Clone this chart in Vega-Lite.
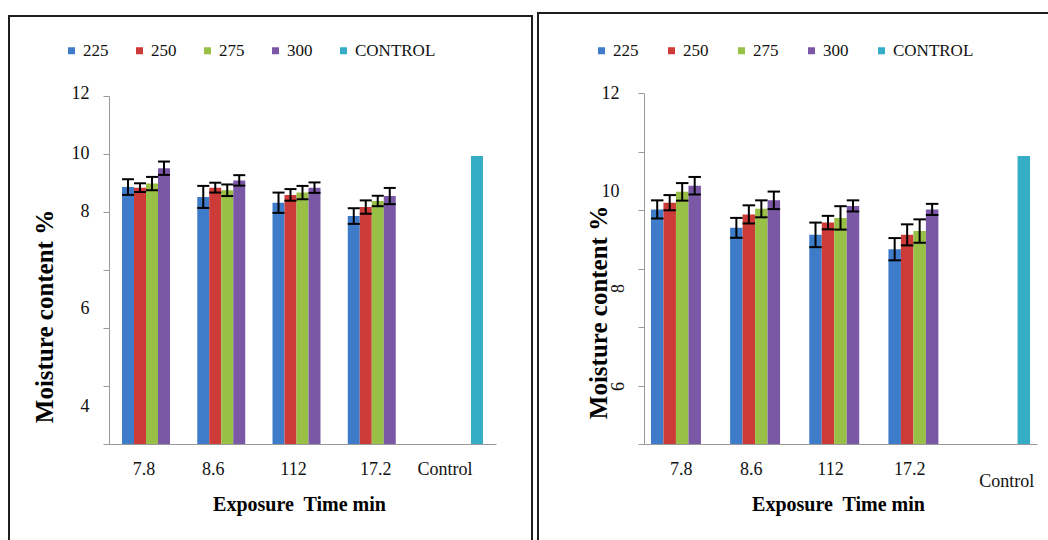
{
  "$schema": "https://vega.github.io/schema/vega-lite/v6.json",
  "padding": {"left": 8, "top": 12, "right": 0, "bottom": 0},
  "background": "white",
  "datasets": {
    "left": [
      {"time": "7.8", "series": "225", "value": 8.86, "lo": 8.59, "hi": 9.13},
      {"time": "7.8", "series": "250", "value": 8.84, "lo": 8.69, "hi": 8.99},
      {"time": "7.8", "series": "275", "value": 8.98, "lo": 8.75, "hi": 9.21},
      {"time": "7.8", "series": "300", "value": 9.51, "lo": 9.28, "hi": 9.74},
      {"time": "8.6", "series": "225", "value": 8.52, "lo": 8.14, "hi": 8.9},
      {"time": "8.6", "series": "250", "value": 8.84, "lo": 8.67, "hi": 9.01},
      {"time": "8.6", "series": "275", "value": 8.75, "lo": 8.55, "hi": 8.95},
      {"time": "8.6", "series": "300", "value": 9.09, "lo": 8.91, "hi": 9.27},
      {"time": "112", "series": "225", "value": 8.32, "lo": 7.97, "hi": 8.67},
      {"time": "112", "series": "250", "value": 8.59, "lo": 8.39, "hi": 8.79},
      {"time": "112", "series": "275", "value": 8.67, "lo": 8.44, "hi": 8.9},
      {"time": "112", "series": "300", "value": 8.84, "lo": 8.66, "hi": 9.02},
      {"time": "17.2", "series": "225", "value": 7.86, "lo": 7.59, "hi": 8.13},
      {"time": "17.2", "series": "250", "value": 8.17, "lo": 7.94, "hi": 8.4},
      {"time": "17.2", "series": "275", "value": 8.38, "lo": 8.2, "hi": 8.56},
      {"time": "17.2", "series": "300", "value": 8.55, "lo": 8.27, "hi": 8.83},
      {"time": "Control", "series": "CONTROL", "value": 9.93, "lo": null, "hi": null}
    ],
    "right": [
      {"time": "7.8", "series": "225", "value": 8.02, "lo": 7.71, "hi": 8.33},
      {"time": "7.8", "series": "250", "value": 8.25, "lo": 7.99, "hi": 8.51},
      {"time": "7.8", "series": "275", "value": 8.62, "lo": 8.32, "hi": 8.92},
      {"time": "7.8", "series": "300", "value": 8.83, "lo": 8.53, "hi": 9.13},
      {"time": "8.6", "series": "225", "value": 7.39, "lo": 7.05, "hi": 7.73},
      {"time": "8.6", "series": "250", "value": 7.85, "lo": 7.54, "hi": 8.16},
      {"time": "8.6", "series": "275", "value": 8.04, "lo": 7.75, "hi": 8.33},
      {"time": "8.6", "series": "300", "value": 8.33, "lo": 8.03, "hi": 8.63},
      {"time": "112", "series": "225", "value": 7.15, "lo": 6.73, "hi": 7.57},
      {"time": "112", "series": "250", "value": 7.57, "lo": 7.34, "hi": 7.8},
      {"time": "112", "series": "275", "value": 7.73, "lo": 7.33, "hi": 8.13},
      {"time": "112", "series": "300", "value": 8.14, "lo": 7.95, "hi": 8.33},
      {"time": "17.2", "series": "225", "value": 6.66, "lo": 6.28, "hi": 7.04},
      {"time": "17.2", "series": "250", "value": 7.15, "lo": 6.79, "hi": 7.51},
      {"time": "17.2", "series": "275", "value": 7.28, "lo": 6.88, "hi": 7.68},
      {"time": "17.2", "series": "300", "value": 8.02, "lo": 7.83, "hi": 8.21},
      {"time": "Control", "series": "CONTROL", "value": 9.85, "lo": null, "hi": null}
    ]
  },
  "spacing": 6,
  "bounds": "flush",
  "center": true,
  "hconcat": [
    {
      "width": 523,
      "height": 526,
      "data": {"name": "left"},
      "encoding": {
        "x": {
          "field": "time", "type": "nominal",
          "sort": ["7.8", "8.6", "112", "17.2", "Control"],
          "scale": {"range": [100, 487], "paddingInner": 0.203, "paddingOuter": 0.173},
          "axis": {
            "offset": -98, "ticks": false, "labelPadding": 16, "labelFontSize": 18, "labelAngle": 0,
            "title": "Exposure\u00a0 Time min", "titleFontSize": 20, "titleFontWeight": "bold",
            "titleX": 290, "titleY": 60, "titleBaseline": "middle", "titleAlign": "center",
            "labelOffset": {"condition": [
              {"test": "datum.value == '8.6'", "value": -14},
              {"test": "datum.value == '112'", "value": -9},
              {"test": "datum.value == '17.2'", "value": -2}
            ], "value": -8}
          }
        },
        "xOffset": {
          "field": "series", "type": "nominal",
          "sort": ["225", "250", "275", "300", "CONTROL"],
          "scale": {"domain": ["225", "250", "275", "300", "CONTROL"], "paddingInner": 0, "paddingOuter": 0}
        }
      },
      "layer": [
        {
          "mark": {"type": "bar"},
          "encoding": {
            "y": {
              "field": "value", "type": "quantitative",
              "scale": {"domain": [0, 12], "range": [428, 80], "nice": false, "zero": true},
              "axis": {
                "offset": -100, "values": [0, 2, 4, 6, 8, 10, 12], "tickSize": 6, "labelPadding": 14,
                "labelFontSize": 18,
                "labelExpr": "datum.value == 12 ? '12' : datum.value == 10 ? '10' : datum.value == 8 ? '8' : datum.value == 6 ? '6' : datum.value == 4 ? '4' : ''",
                "title": "Moisture content %", "titleFontSize": 25, "titleFontWeight": "bold",
                "titleX": -65, "titleY": 300, "titleAngle": -90, "titleBaseline": "middle", "titleAlign": "center",
                "labelOffset": {"condition": [
                  {"test": "datum.value == 12", "value": -3},
                  {"test": "datum.value == 6", "value": 38},
                  {"test": "datum.value == 4", "value": 78}
                ], "value": -1}
              }
            },
            "color": {
              "field": "series", "type": "nominal",
              "scale": {"domain": ["225", "250", "275", "300", "CONTROL"], "range": ["#3E7CC9", "#CC3B37", "#98C046", "#7B58A6", "#35ADC6"]},
              "legend": {
                "orient": "none", "legendX": 54, "legendY": 26, "direction": "horizontal", "title": null,
                "symbolType": "square", "symbolSize": 49, "symbolStrokeWidth": 0, "labelFontSize": 17,
                "labelOffset": 3, "columnPadding": 22, "padding": 0, "labelFont": "Liberation Serif"
              }
            }
          }
        },
        {
          "mark": {"type": "rule", "color": "black", "strokeWidth": 2},
          "encoding": {
            "y": {"field": "lo", "type": "quantitative", "scale": {"domain": [0, 12], "range": [428, 80], "nice": false}},
            "y2": {"field": "hi"}
          }
        },
        {
          "mark": {"type": "tick", "color": "black", "thickness": 2, "size": 12, "opacity": 1},
          "encoding": {"y": {"field": "lo", "type": "quantitative", "scale": {"domain": [0, 12], "range": [428, 80], "nice": false}}}
        },
        {
          "mark": {"type": "tick", "color": "black", "thickness": 2, "size": 12, "opacity": 1},
          "encoding": {"y": {"field": "hi", "type": "quantitative", "scale": {"domain": [0, 12], "range": [428, 80], "nice": false}}}
        }
      ]
    },
    {
      "width": 515,
      "height": 532,
      "data": {"name": "right"},
      "encoding": {
        "x": {
          "field": "time", "type": "nominal",
          "sort": ["7.8", "8.6", "112", "17.2", "Control"],
          "scale": {"range": [106, 499], "paddingInner": 0.211, "paddingOuter": 0.088},
          "axis": {
            "offset": -101, "ticks": false, "labelFontSize": 18, "labelAngle": 0,
            "title": "Exposure\u00a0 Time min", "titleFontSize": 20, "titleFontWeight": "bold",
            "titleX": 300, "titleY": 60, "titleBaseline": "middle", "titleAlign": "center",
            "labelOffset": {"condition": [
              {"test": "datum.value == '7.8'", "value": -1},
              {"test": "datum.value == 'Control'", "value": 8}
            ], "value": -10},
            "labelPadding": {"condition": {"test": "datum.value == 'Control'", "value": 28}, "value": 16}
          }
        },
        "xOffset": {
          "field": "series", "type": "nominal",
          "sort": ["225", "250", "275", "300", "CONTROL"],
          "scale": {"domain": ["225", "250", "275", "300", "CONTROL"], "paddingInner": 0, "paddingOuter": 0}
        }
      },
      "resolve": {"axis": {"y": "independent"}},
      "layer": [
        {
          "mark": {"type": "bar"},
          "encoding": {
            "y": {
              "field": "value", "type": "quantitative",
              "scale": {"domain": [0, 12], "range": [431, 80], "nice": false, "zero": true},
              "axis": {
                "orient": "left",
                "offset": -106, "values": [0, 2, 4, 6, 8, 10, 12], "tickSize": 6, "labelPadding": 19,
                "labelFontSize": 18,
                "labelExpr": "datum.value == 12 ? '12' : datum.value == 10 ? '10' : ''",
                "title": "Moisture content %", "titleFontSize": 25, "titleFontWeight": "bold",
                "titleX": -46, "titleY": 299, "titleAngle": -90, "titleBaseline": "middle", "titleAlign": "center",
                "labelOffset": {"condition": {"test": "datum.value == 10", "value": 39.5}, "value": 0}
              }
            },
            "color": {
              "field": "series", "type": "nominal",
              "scale": {"domain": ["225", "250", "275", "300", "CONTROL"], "range": ["#3E7CC9", "#CC3B37", "#98C046", "#7B58A6", "#35ADC6"]},
              "legend": {
                "orient": "none", "legendX": 55, "legendY": 29, "direction": "horizontal", "title": null,
                "symbolType": "square", "symbolSize": 49, "symbolStrokeWidth": 0, "labelFontSize": 17,
                "labelOffset": 3, "columnPadding": 24, "padding": 0, "labelFont": "Liberation Serif"
              }
            }
          }
        },
        {
          "mark": {"type": "rule", "color": "black", "strokeWidth": 2},
          "encoding": {
            "y": {
              "field": "lo", "type": "quantitative", "scale": {"domain": [0, 12], "range": [431, 80], "nice": false},
              "axis": {
                "orient": "left", "offset": -106, "values": [6, 8], "ticks": false, "tickSize": 0, "domain": false,
                "labelPadding": 26, "labelAngle": -90, "labelAlign": "center", "labelBaseline": "middle",
                "labelFontSize": 18, "title": null,
                "labelOffset": {"condition": {"test": "datum.value == 8", "value": 78}, "value": 117.5}
              }
            },
            "y2": {"field": "hi"}
          }
        },
        {
          "mark": {"type": "tick", "color": "black", "thickness": 2, "size": 12.5, "opacity": 1},
          "encoding": {"y": {"field": "lo", "type": "quantitative", "scale": {"domain": [0, 12], "range": [431, 80], "nice": false}, "axis": null}}
        },
        {
          "mark": {"type": "tick", "color": "black", "thickness": 2, "size": 12.5, "opacity": 1},
          "encoding": {"y": {"field": "hi", "type": "quantitative", "scale": {"domain": [0, 12], "range": [431, 80], "nice": false}, "axis": null}}
        }
      ]
    }
  ],
  "resolve": {
    "scale": {"x": "independent", "y": "independent", "xOffset": "independent", "color": "independent"},
    "axis": {"x": "independent", "y": "independent"},
    "legend": {"color": "independent"}
  },
  "config": {
    "font": "Liberation Serif",
    "view": {"stroke": "#1e1e1e", "strokeWidth": 2},
    "axis": {
      "grid": false, "domainColor": "#9a9a9a", "tickColor": "#9a9a9a", "domainWidth": 1, "tickWidth": 1,
      "labelColor": "#111111", "titleColor": "#000000", "labelFont": "Liberation Serif", "titleFont": "Liberation Serif"
    },
    "legend": {"labelColor": "#111111"}
  }
}
